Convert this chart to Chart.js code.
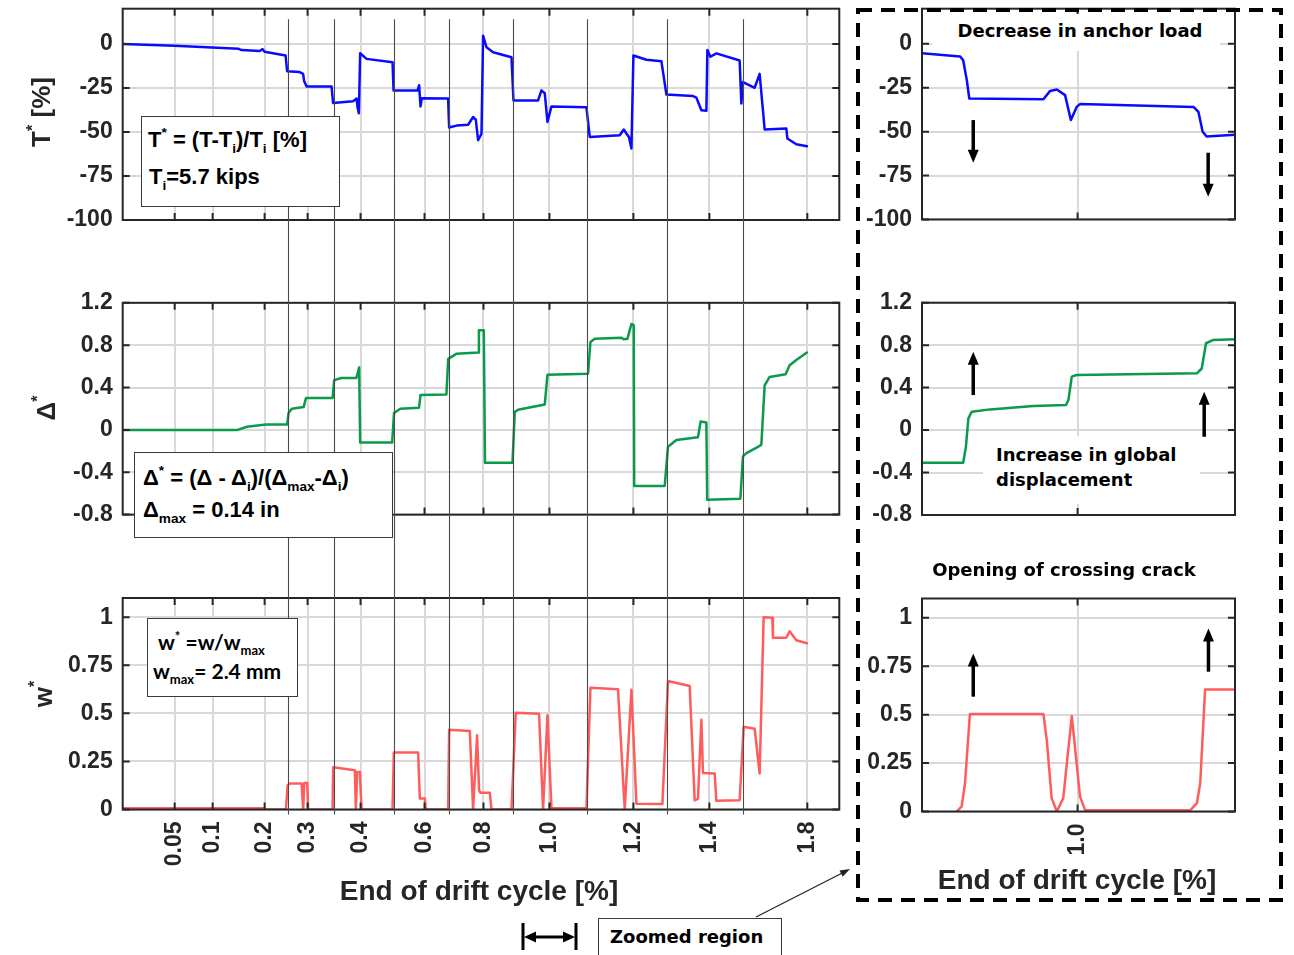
<!DOCTYPE html>
<html>
<head>
<meta charset="utf-8">
<script src="https://cdn.jsdelivr.net/npm/chart.js@4.4.1/dist/chart.umd.min.js"></script>
<style>
  html, body { margin:0; padding:0; background:#fff; }
  body { width:1294px; height:955px; position:relative; overflow:hidden; font-family:"Liberation Sans", Arial, sans-serif; }
  canvas.layer { position:absolute; left:0; top:0; }
  .t { position:absolute; white-space:nowrap; font-weight:bold; line-height:1; z-index:10; color:#000; }
  .box { position:absolute; background:#fff; border:1.4px solid #3a3a3a; box-sizing:border-box; z-index:9; }
  .wb { position:absolute; background:#fff; z-index:9; }
  .rot { transform: translate(-50%,-50%) rotate(-90deg); transform-origin:center; }
  .ctr { transform: translateX(-50%); }
  sup, sub { font-size:62%; line-height:0; position:relative; vertical-align:baseline; }
  sup { top:-0.72em; }
  sub { top:0.42em; }
  .dj { font-family:"DejaVu Sans", sans-serif; font-size:18px; }
  .ax { color:#262626; font-size:28px; }
</style>
</head>
<body>
<canvas id="cT" class="layer" width="1294" height="955"></canvas>
<canvas id="cD" class="layer" width="1294" height="955"></canvas>
<canvas id="cW" class="layer" width="1294" height="955"></canvas>
<canvas id="zT" class="layer" width="1294" height="955"></canvas>
<canvas id="zD" class="layer" width="1294" height="955"></canvas>
<canvas id="zW" class="layer" width="1294" height="955"></canvas>
<canvas id="ov" class="layer" width="1294" height="955" style="z-index:5"></canvas>

<!-- y-axis titles -->
<div class="t rot" style="left:41px;top:112px;font-size:26px;color:#262626">T<sup>*</sup> [%]</div>
<div class="t rot" style="left:46px;top:408px;font-size:26px;color:#262626">&Delta;<sup>*</sup></div>
<div class="t rot" style="left:43px;top:694px;font-size:26px;color:#262626">w<sup>*</sup></div>

<!-- formula boxes -->
<div class="box" style="left:141px;top:116px;width:199px;height:91px"></div>
<div class="t" style="left:148px;top:129px;font-size:22px">T<sup>*</sup> = (T-T<sub>i</sub>)/T<sub>i</sub> [%]</div>
<div class="t" style="left:149px;top:166px;font-size:22px">T<sub>i</sub>=5.7 kips</div>

<div class="box" style="left:134px;top:452px;width:259px;height:86px"></div>
<div class="t" style="left:143px;top:467px;font-size:22px">&Delta;<sup>*</sup> = (&Delta; - &Delta;<sub>i</sub>)/(&Delta;<sub>max</sub>-&Delta;<sub>i</sub>)</div>
<div class="t" style="left:143px;top:499px;font-size:22px">&Delta;<sub>max</sub> = 0.14 in</div>

<div class="box" style="left:147px;top:618px;width:151px;height:79px"></div>
<div class="t" style="left:158px;top:631px;font-size:21px;font-family:Lato,sans-serif">w<sup>*</sup> =w/w<sub>max</sub></div>
<div class="t" style="left:153px;top:660px;font-size:21px;font-family:Lato,sans-serif">w<sub>max</sub>= 2.4 mm</div>

<!-- zoom panel annotations -->
<div class="wb" style="left:932px;top:14px;width:288px;height:37px"></div>
<div class="t dj ctr" style="left:1080px;top:22px">Decrease in anchor load</div>
<div class="wb" style="left:983px;top:436px;width:217px;height:68px"></div>
<div class="t dj" style="left:996px;top:446px">Increase in global</div>
<div class="t dj" style="left:996px;top:471px">displacement</div>
<div class="t dj ctr" style="left:1064px;top:561px">Opening of crossing crack</div>

<!-- x-axis titles -->
<div class="t ax ctr" style="left:479px;top:877px">End of drift cycle [%]</div>
<div class="t ax ctr" style="left:1077px;top:866px">End of drift cycle [%]</div>

<!-- zoomed region label -->
<div class="box" style="left:598px;top:918px;width:184px;height:45px"></div>
<div class="t dj" style="left:610px;top:928px">Zoomed region</div>

<script>
// ---------------- data (x in recorded sample steps) ----------------
const driftTickSteps  = [52, 90, 142, 185, 238, 302, 361, 427, 511, 587, 685];
const driftTickLabels = ['0.05','0.1','0.2','0.3','0.4','0.6','0.8','1.0','1.2','1.4','1.8'];
const cycleDividers   = [165, 211, 271, 326, 391, 465, 545, 621];
const dividerTopT     = 14;

const tTicks  = [-100, -75, -50, -25, 0];
const tLabels = ['-100', '-75', '-50', '-25', '0'];
const dTicks  = [-0.8, -0.4, 0, 0.4, 0.8, 1.2];
const dLabels = ['-0.8', '-0.4', '0', '0.4', '0.8', '1.2'];
const wTicks  = [0, 0.25, 0.5, 0.75, 1];
const wLabels = ['0', '0.25', '0.5', '0.75', '1'];

const zoomTickSteps  = [427];
const zoomTickLabels = ['1.0'];

const anchorLoadT = [[0,0],[52,-1],[116,-2.8],[119,-3.5],[137,-4],[140,-3],[142,-4.5],[163,-6.6],[164.5,-15.5],[177,-16],[180.5,-17],[181.5,-21],[184,-24.2],[209,-24.2],[210.5,-33.6],[230.5,-32.5],[234,-31],[235,-36],[236.3,-39.4],[237.6,-5.3],[244,-8.5],[270,-10.4],[271,-26.4],[295,-26.4],[296.6,-23.5],[298,-35.5],[299.3,-30.8],[325.6,-31],[326.6,-47.5],[334,-46.4],[345.6,-45.9],[350.6,-41.5],[353.3,-43],[355.6,-54.7],[359,-51],[360.6,4.7],[364,-1.9],[370.6,-4.7],[389,-7.6],[391,-32.1],[415.6,-32.1],[419,-26.4],[422.3,-28],[425,-44.3],[429,-35.5],[464,-36],[467.3,-52.8],[497.3,-51.9],[501.3,-48.6],[506.6,-53],[509,-59.4],[511,-6.6],[524,-9],[539,-9.8],[544,-28.7],[570.6,-29.6],[574,-30.5],[579,-37.7],[584,-38],[585,-3.4],[588,-7.3],[594,-5.4],[617.3,-9.4],[619,-33.8],[620.6,-21.7],[632.3,-24.9],[637.3,-17],[640.6,-37.7],[642.3,-48.6],[664,-48],[665,-53.7],[674,-57],[684.6,-58.1]];

const globalDispD = [[0,0],[115,0],[124.4,0.03],[143.3,0.05],[164.5,0.05],[166,0.16],[169.2,0.2],[181,0.215],[183.4,0.3],[210,0.3],[211.6,0.47],[218.7,0.49],[233.8,0.49],[236.6,0.59],[237.6,-0.12],[269.6,-0.12],[271.5,0.16],[277.7,0.2],[296.5,0.21],[298,0.33],[323.9,0.335],[325.7,0.67],[334.2,0.72],[355.5,0.73],[356.4,0.94],[361.3,0.94],[362.5,-0.31],[390,-0.31],[392.3,0.17],[395.6,0.19],[422.3,0.24],[425,0.52],[465.6,0.53],[468,0.83],[472.3,0.86],[499,0.87],[501.3,0.855],[505,0.86],[509,1.0],[511.3,0.99],[511.8,-0.53],[542.3,-0.53],[545.6,-0.16],[554,-0.095],[575.6,-0.07],[578.3,0.08],[584,0.07],[584.8,-0.66],[618,-0.65],[620.6,-0.25],[624,-0.22],[635.6,-0.16],[639,-0.14],[642.3,0.42],[647.3,0.5],[663.3,0.525],[667.3,0.61],[674,0.66],[684.6,0.73]];

const crackOpeningW = [[0,0.006],[141,0.006],[142,0],[163.3,0],[165,0.126],[167.3,0.135],[179,0.135],[180.6,0],[181.6,0.138],[184.6,0.138],[185.6,0],[210,0],[210.6,0.22],[232.3,0.204],[233.3,0],[234.6,0.195],[237.3,0.195],[239,0],[270,0],[271.3,0.296],[295.6,0.296],[297.3,0.057],[302.3,0.057],[303.3,0],[325.6,0],[326.6,0.415],[347.3,0.408],[350.6,0],[354.6,0.386],[356.6,0.1],[358,0.087],[367.3,0.087],[369,0],[389,0],[393.3,0.503],[416.6,0.498],[420.6,0],[425,0.49],[429,0.006],[464,0.006],[468,0.633],[495.6,0.625],[502.3,0],[509,0.623],[514,0.03],[540,0.028],[545.6,0.668],[567.3,0.642],[572.3,0.048],[575.6,0.057],[579,0.467],[580.6,0.19],[592.3,0.187],[594,0.045],[617.3,0.048],[621.3,0.43],[632.3,0.42],[637.3,0.187],[641.3,1.0],[650,0.997],[650.6,0.893],[664,0.893],[667.3,0.927],[674,0.88],[684.6,0.865]];

const zoomAnchorT = [[376,-5.3],[388.5,-7.2],[389.5,-9.4],[390.7,-20.8],[391.5,-31.1],[415.8,-31.5],[418,-26.8],[420.2,-26],[422.9,-29.2],[424.8,-43.4],[426.7,-35.9],[427.8,-34.3],[465,-35.9],[466.6,-38.7],[468,-50],[469.3,-52.8],[478.6,-51.7]];
const zoomDispD = [[376,-0.308],[389.5,-0.308],[390.4,-0.157],[391.2,0.11],[392.3,0.173],[398.3,0.195],[412.5,0.226],[423.2,0.236],[424,0.283],[425.1,0.503],[426.7,0.519],[466.1,0.535],[467.7,0.58],[469.1,0.818],[471.5,0.849],[478.6,0.856]];
const zoomCrackW = [[387.4,0],[389,0.026],[390.1,0.146],[391.7,0.503],[415.8,0.503],[416.9,0.37],[418.5,0.069],[420.2,0],[422.3,0.069],[425.1,0.493],[427.8,0.077],[429.5,0.006],[463.9,0.006],[466.1,0.043],[467.2,0.146],[468.8,0.63],[478.6,0.63]];

// arrows: [x step, from value, to value]
const zoomArrowsT = [[392.8,-43.4,-67.7],[469.8,-62,-87]];
const zoomArrowsD = [[392.8,0.33,0.739],[468.5,-0.063,0.361]];
const zoomArrowsW = [[392.8,0.593,0.816],[469.9,0.722,0.945]];

// ---------------- drawing ----------------
const W = 1294, H = 955, YW = 100;
const AXIS = '#262626', GRID = '#d9d9d9';
Chart.defaults.font.family = '"Liberation Sans", Arial, sans-serif';

function headAt(g, x0, y0, x1, y1, len, wid) {
  const a = Math.atan2(y1 - y0, x1 - x0), c = Math.cos(a), s = Math.sin(a);
  g.beginPath();
  g.moveTo(x1, y1);
  g.lineTo(x1 - len * c + wid / 2 * s, y1 - len * s - wid / 2 * c);
  g.lineTo(x1 - len * c - wid / 2 * s, y1 - len * s + wid / 2 * c);
  g.closePath();
  g.fill();
}
function arrowLine(g, x0, y0, x1, y1, lw, len, wid) {
  const a = Math.atan2(y1 - y0, x1 - x0);
  g.lineWidth = lw;
  g.beginPath();
  g.moveTo(x0, y0);
  g.lineTo(x1 - len * 0.7 * Math.cos(a), y1 - len * 0.7 * Math.sin(a));
  g.stroke();
  headAt(g, x0, y0, x1, y1, len, wid);
}

function framePlugin(arrows) {
  return {
    id: 'frame',
    afterDatasetsDraw(chart) {
      const {ctx, chartArea: a, scales: {x, y}} = chart;
      ctx.save();
      ctx.strokeStyle = AXIS; ctx.lineWidth = 2;
      const L = 7;
      ctx.beginPath();
      x.ticks.forEach(t => { const p = x.getPixelForValue(t.value);
        ctx.moveTo(p, a.bottom); ctx.lineTo(p, a.bottom - L);
        ctx.moveTo(p, a.top); ctx.lineTo(p, a.top + L); });
      y.ticks.forEach(t => { const p = y.getPixelForValue(t.value);
        ctx.moveTo(a.left, p); ctx.lineTo(a.left + L, p);
        ctx.moveTo(a.right, p); ctx.lineTo(a.right - L, p); });
      ctx.stroke();
      ctx.strokeRect(a.left, a.top, a.right - a.left, a.bottom - a.top);
      ctx.fillStyle = '#000'; ctx.strokeStyle = '#000';
      arrows.forEach(ar => {
        const px = x.getPixelForValue(ar[0]);
        arrowLine(ctx, px, y.getPixelForValue(ar[1]), px, y.getPixelForValue(ar[2]), 3.5, 13, 11);
      });
      ctx.restore();
    }
  };
}

function noPad(s) { s.paddingTop = 0; s.paddingBottom = 0; s.paddingLeft = 0; s.paddingRight = 0; }

function makeChart(id, c) {
  return new Chart(document.getElementById(id), {
    type: 'line',
    data: { datasets: [{
      data: c.pts.map(p => ({x: p[0], y: p[1]})),
      borderColor: c.color, borderWidth: c.lw, pointRadius: 0, tension: 0,
      borderJoinStyle: 'round', borderCapStyle: 'round', fill: false
    }]},
    options: {
      responsive: false, animation: false, devicePixelRatio: 1,
      layout: { padding: { left: c.area[0] - YW, top: c.area[1], right: W - c.area[2], bottom: H - c.area[3] - c.xh } },
      plugins: { legend: {display: false}, tooltip: {enabled: false} },
      scales: {
        x: {
          type: 'linear', min: c.xmin, max: c.xmax,
          afterBuildTicks: s => { s.ticks = c.xt.map(v => ({value: v})); },
          afterFit: s => { s.height = c.xh; noPad(s); },
          grid: { color: GRID, lineWidth: 2, drawTicks: false },
          border: { display: false },
          ticks: { display: !!c.xl, autoSkip: false, minRotation: 90, maxRotation: 90, padding: 12,
                   color: AXIS, font: {size: 23, weight: 'bold'},
                   callback: (v, i) => c.xl ? c.xl[i] : '' }
        },
        y: {
          type: 'linear', min: c.ymin, max: c.ymax,
          afterBuildTicks: s => { s.ticks = c.yt.map(v => ({value: v})); },
          afterFit: s => { s.width = YW; noPad(s); },
          grid: { color: GRID, lineWidth: 2, drawTicks: false },
          border: { display: false },
          ticks: { padding: 10, color: AXIS, font: {size: 23, weight: 'bold'},
                   callback: (v, i) => c.yl[i] }
        }
      }
    },
    plugins: [framePlugin(c.arrows || [])]
  });
}

const BLUE = '#0a0aff', GREEN = '#0a9a4a', RED = '#ff5c5c';
const L0 = 0, L1 = 717, Z0 = 376, Z1 = 478.6;

const cT = makeChart('cT', {pts: anchorLoadT, color: BLUE, lw: 2.5, area: [122.7, 8.7, 839.3, 220], xh: 0,
  xmin: L0, xmax: L1, xt: driftTickSteps, ymin: -100, ymax: 20, yt: tTicks, yl: tLabels});
const cD = makeChart('cD', {pts: globalDispD, color: GREEN, lw: 2.5, area: [122.7, 302.8, 839.3, 514.6], xh: 0,
  xmin: L0, xmax: L1, xt: driftTickSteps, ymin: -0.8, ymax: 1.2, yt: dTicks, yl: dLabels});
const cW = makeChart('cW', {pts: crackOpeningW, color: RED, lw: 2.5, area: [122.7, 598, 839.3, 809.5], xh: 70,
  xmin: L0, xmax: L1, xt: driftTickSteps, xl: driftTickLabels, ymin: 0, ymax: 1.1, yt: wTicks, yl: wLabels});

const zT = makeChart('zT', {pts: zoomAnchorT, color: BLUE, lw: 2.5, area: [922, 8.7, 1235, 219.5], xh: 0,
  xmin: Z0, xmax: Z1, xt: zoomTickSteps, ymin: -100, ymax: 20, yt: tTicks, yl: tLabels, arrows: zoomArrowsT});
const zD = makeChart('zD', {pts: zoomDispD, color: GREEN, lw: 2.5, area: [922, 302.7, 1235, 515], xh: 0,
  xmin: Z0, xmax: Z1, xt: zoomTickSteps, ymin: -0.8, ymax: 1.2, yt: dTicks, yl: dLabels, arrows: zoomArrowsD});
const zW = makeChart('zW', {pts: zoomCrackW, color: RED, lw: 2.5, area: [922, 598.5, 1235, 811.5], xh: 70,
  xmin: Z0, xmax: Z1, xt: zoomTickSteps, xl: zoomTickLabels, ymin: 0, ymax: 1.1, yt: wTicks, yl: wLabels, arrows: zoomArrowsW});

(function drawOverlay() {
  const g = document.getElementById('ov').getContext('2d');
  // cycle divider lines crossing all three left panels
  const xs = cT.scales.x;
  const yTop = cT.scales.y.getPixelForValue(dividerTopT);
  const yBot = cW.chartArea.bottom + 5;
  g.save();
  g.strokeStyle = '#4a4a4a'; g.lineWidth = 1.1;
  cycleDividers.forEach(v => {
    const px = Math.round(xs.getPixelForValue(v)) + 0.5;
    g.beginPath(); g.moveTo(px, yTop); g.lineTo(px, yBot); g.stroke();
  });
  g.restore();
  // dashed frame around zoomed panels
  g.save();
  g.strokeStyle = '#000'; g.lineWidth = 4; g.setLineDash([14, 9]);
  g.strokeRect(858, 10, 423, 890);
  g.restore();
  // pointer from label to zoom frame
  g.save();
  g.strokeStyle = '#222'; g.fillStyle = '#222';
  arrowLine(g, 756, 917, 850, 869, 1.2, 10, 7);
  // double-headed arrow marking the zoomed range
  g.strokeStyle = '#000'; g.fillStyle = '#000';
  g.lineWidth = 3;
  g.beginPath(); g.moveTo(523, 923); g.lineTo(523, 950); g.moveTo(576, 923); g.lineTo(576, 950); g.stroke();
  g.beginPath(); g.moveTo(532, 937); g.lineTo(567, 937); g.stroke();
  headAt(g, 560, 937, 575, 937, 12, 11);
  headAt(g, 539, 937, 524, 937, 12, 11);
  g.restore();
})();
</script>
</body>
</html>
